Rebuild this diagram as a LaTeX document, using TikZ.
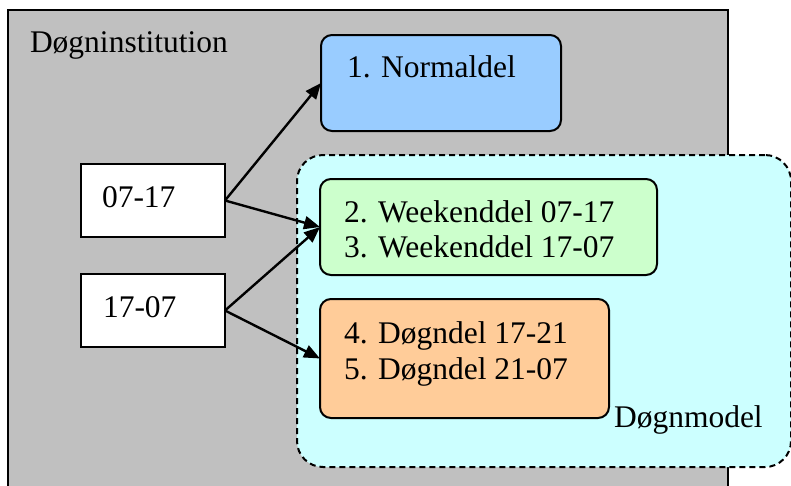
\documentclass[tikz,border=0pt]{standalone}
\usepackage{fontspec}
\setmainfont{Liberation Serif}
\usetikzlibrary{arrows.meta}
\definecolor{grayfill}{RGB}{192,192,192}
\definecolor{bluefill}{RGB}{153,204,255}
\definecolor{cyanfill}{RGB}{204,255,255}
\definecolor{greenfill}{RGB}{204,255,204}
\definecolor{orangefill}{RGB}{255,204,153}
\begin{document}
\begin{tikzpicture}[x=1pt,y=-1pt,
  every node/.style={font=\fontsize{31.5}{36}\selectfont},
  frame/.style={draw, line width=2pt, inner sep=0pt, outer sep=0pt, anchor=north west},
  box/.style={frame, rounded corners=11pt},
  txt/.style={anchor=base west, inner sep=0pt, outer sep=0pt},
  arr/.style={line width=2.4pt, -{Triangle[length=16pt,width=13pt]}}]
\useasboundingbox (0,0) rectangle (791,485);
\clip (0,0) rectangle (791,485);
% outer institution frame
\node[frame, fill=grayfill, minimum width=720pt, minimum height=500pt] (inst) at (8,10) {};
\node[txt] (instlabel) at (30,52) {Døgninstitution};
% Døgnmodel region
\node[frame, fill=cyanfill, dash pattern=on 6pt off 4pt, rounded corners=26pt,
      minimum width=494pt, minimum height=312pt] (model) at (297,155) {};
\node[txt] (modellabel) at (614,427) {Døgnmodel};
% boxes
\node[box, fill=bluefill, minimum width=240pt, minimum height=96pt] (n1) at (321,35) {};
\node[txt] (n1t) at (347,77) {1. Normaldel};
\node[box, fill=greenfill, minimum width=337pt, minimum height=96pt] (wk) at (320,179) {};
\node[txt] (wk1) at (344,222) {2. Weekenddel 07-17};
\node[txt] (wk2) at (344,257.5) {3. Weekenddel 17-07};
\node[box, fill=orangefill, minimum width=289pt, minimum height=119pt] (dg) at (320,299) {};
\node[txt] (dg1) at (344,343) {4. Døgndel 17-21};
\node[txt] (dg2) at (344,379.5) {5. Døgndel 21-07};
% time boxes
\node[frame, fill=white, minimum width=144pt, minimum height=73pt] (t1) at (81,164) {};
\node[txt] (t1t) at (102,207) {07-17};
\node[frame, fill=white, minimum width=144pt, minimum height=73pt] (t2) at (81,274) {};
\node[txt] (t2t) at (103,317) {17-07};
% arrows
\draw[arr] (t1.east) -- (n1.west);
\draw[arr] (t1.east) -- (wk.west);
\draw[arr] (t2.east) -- (wk.west);
\draw[arr] (t2.east) -- (dg.west);
\end{tikzpicture}
\end{document}
